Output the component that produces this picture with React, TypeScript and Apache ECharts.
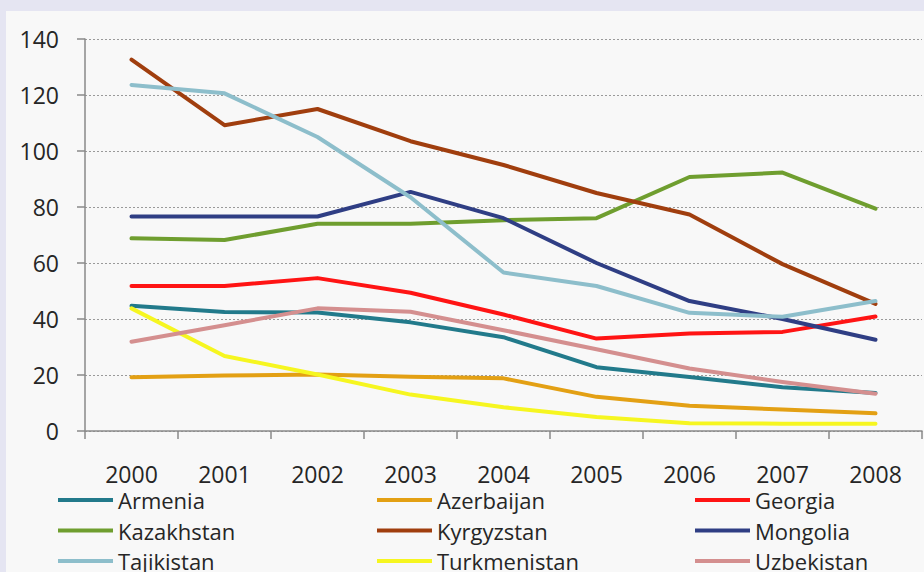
import React, { useEffect, useRef } from "react";
import * as echarts from "echarts";

const years = ["2000", "2001", "2002", "2003", "2004", "2005", "2006", "2007", "2008"];

const armenia = [44.7, 42.5, 42.3, 38.8, 33.5, 22.8, 19.3, 15.6, 13.6];
const azerbaijan = [19.2, 19.8, 20.2, 19.4, 18.8, 12.2, 9.0, 7.7, 6.3];
const georgia = [51.8, 51.8, 54.6, 49.4, 41.6, 33.0, 34.8, 35.4, 40.9];
const kazakhstan = [68.8, 68.2, 74.0, 74.0, 75.3, 76.0, 90.7, 92.3, 79.4];
const kyrgyzstan = [132.6, 109.2, 115.0, 103.5, 95.0, 85.0, 77.3, 59.6, 45.4];
const mongolia = [76.6, 76.6, 76.6, 85.4, 76.0, 60.0, 46.4, 40.0, 32.6];
const tajikistan = [123.6, 120.6, 105.0, 83.5, 56.6, 51.8, 42.2, 40.8, 46.4];
const turkmenistan = [43.8, 26.8, 20.2, 13.0, 8.5, 5.0, 2.8, 2.6, 2.6];
const uzbekistan = [31.9, 37.8, 43.8, 42.6, 36.0, 29.2, 22.3, 17.5, 13.3];

const seriesNames = [
  "Armenia", "Azerbaijan", "Georgia",
  "Kazakhstan", "Kyrgyzstan", "Mongolia",
  "Tajikistan", "Turkmenistan", "Uzbekistan",
];
const seriesData = [
  armenia, azerbaijan, georgia,
  kazakhstan, kyrgyzstan, mongolia,
  tajikistan, turkmenistan, uzbekistan,
];
const seriesColors = [
  "#227a8b", "#e3a014", "#ff1414",
  "#6f9e2f", "#a03e0e", "#2f3e84",
  "#8dbecb", "#f6f620", "#d48f8f",
];

const legendColumns = [
  ["Armenia", "Kazakhstan", "Tajikistan"],
  ["Azerbaijan", "Kyrgyzstan", "Turkmenistan"],
  ["Georgia", "Mongolia", "Uzbekistan"],
];
const legendLefts = [58, 377, 695];

const FONT = "'Open Sans', sans-serif";
const TEXT = "#262626";

export default function App() {
  const ref = useRef<HTMLDivElement>(null);
  useEffect(() => {
    if (!ref.current) return;
    const chart = echarts.init(ref.current, undefined, { renderer: "svg" });
    chart.setOption({
      animation: false,
      backgroundColor: "#e5e5f2",
      textStyle: { fontFamily: FONT },
      graphic: [
        {
          type: "rect",
          z: -10,
          shape: { x: 6, y: 11, width: 918, height: 561 },
          style: { fill: "#f8f8f8" },
        },
      ],
      grid: { left: 85, right: 2, top: 39, bottom: 141, containLabel: false },
      xAxis: {
        type: "category",
        data: years,
        boundaryGap: true,
        axisLine: { lineStyle: { color: "#8a8a8a", width: 1.5 } },
        axisTick: { show: true, length: 8, alignWithLabel: false, lineStyle: { color: "#8a8a8a", width: 1.5 } },
        axisLabel: { margin: 31, fontSize: 23, lineHeight: 23, color: TEXT, fontFamily: FONT },
        splitLine: { show: false },
      },
      yAxis: {
        type: "value",
        min: 0,
        max: 140,
        interval: 20,
        axisLine: { show: true, lineStyle: { color: "#8a8a8a", width: 1.5 } },
        axisTick: { show: true, length: 8, lineStyle: { color: "#8a8a8a", width: 1.5 } },
        axisLabel: { margin: 26, fontSize: 23, color: TEXT, fontFamily: FONT },
        splitLine: { show: true, lineStyle: { color: "#9a9a9a", type: [2, 2], width: 1 } },
      },
      legend: legendColumns.map((col, i) => ({
        data: col,
        orient: "vertical",
        left: legendLefts[i],
        top: 489,
        height: 100,
        icon: "rect",
        itemWidth: 55,
        itemHeight: 4,
        itemGap: 8.5,
        padding: 0,
        textStyle: { fontSize: 22, lineHeight: 22, color: TEXT, fontFamily: FONT, padding: [0, 0, 0, 0] },
        selectedMode: false,
      })),
      series: seriesNames.map((name, i) => ({
        name,
        type: "line",
        data: seriesData[i],
        symbol: "none",
        smooth: false,
        color: seriesColors[i],
        lineStyle: { width: 4, color: seriesColors[i], join: "round", cap: "round" },
      })),
    });
    return () => chart.dispose();
  }, []);
  return (
    <div
      ref={ref}
      style={{ position: "fixed", left: 0, top: 0, width: 924, height: 572 }}
    />
  );
}
